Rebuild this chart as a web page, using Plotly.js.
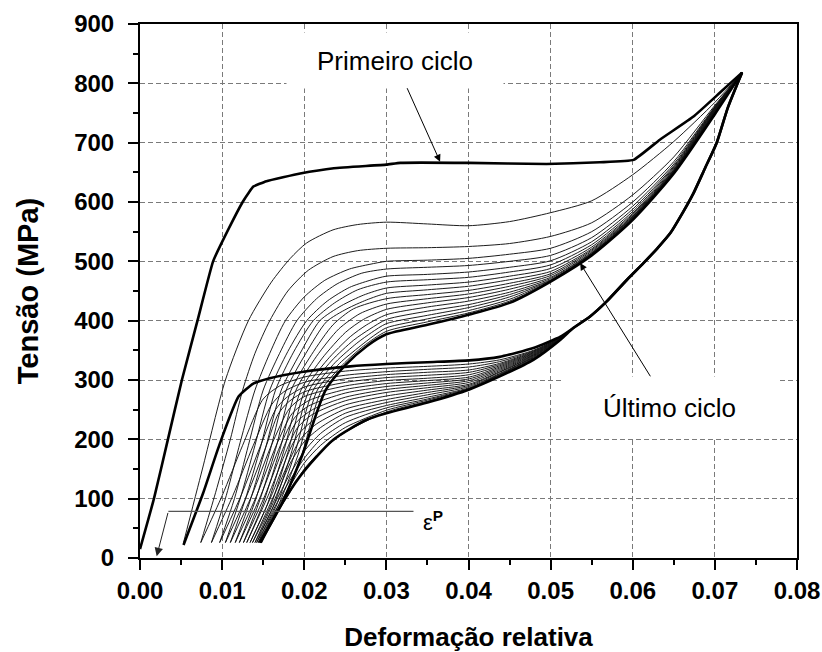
<!DOCTYPE html>
<html><head><meta charset="utf-8">
<script src="https://cdn.plot.ly/plotly-3.0.1.min.js"></script>
<style>html,body{margin:0;padding:0;background:#fff}#chart{width:822px;height:652px}</style>
</head><body><div id="chart"></div>
<script>
// ---------------- DATA ----------------
// Strain (x) and stress in MPa (y)
const xTicks = [0.00, 0.01, 0.02, 0.03, 0.04, 0.05, 0.06, 0.07, 0.08];
const yTicks = [0, 100, 200, 300, 400, 500, 600, 700, 800, 900];

// First cycle loading (bold)
const cycle1LoadX = [0.0000,0.0017,0.0034,0.0051,0.0070,0.0089,0.0108,0.0125,0.0133,0.0138,0.0154,0.0195,0.0236,0.0300,0.0317,0.0400,0.0495,0.0560,0.0601,0.0633,0.0674,0.0706,0.0733];
const cycle1LoadY = [15,100,200,300,400,500,555,600,617,626,635,648,657,663,666,666,664,667,671,705,744,784,818];

// Loading curves of cycles 2..18: lower (elastic / transition) part
const loadLowX = [
  [0.0053,0.0076,0.0104,0.0132,0.0160,0.0183,0.0203,0.0235,0.0265],
  [0.0074,0.0092,0.0110,0.0125,0.0140,0.0158,0.0180,0.0205,0.0235,0.0265],
  [0.0087,0.0105,0.0122,0.0140,0.0158,0.0177,0.0200,0.0225,0.0255,0.0280],
  [0.0097,0.0115,0.0132,0.0150,0.0170,0.0191,0.0215,0.0240,0.0270],
  [0.0104,0.0122,0.0140,0.0158,0.0180,0.0203,0.0228,0.0255,0.0280],
  [0.0110,0.0128,0.0147,0.0165,0.0187,0.0211,0.0237,0.0265],
  [0.0116,0.0134,0.0153,0.0172,0.0195,0.0219,0.0245,0.0272],
  [0.0121,0.0140,0.0159,0.0178,0.0202,0.0227,0.0252,0.0276],
  [0.0126,0.0145,0.0165,0.0184,0.0209,0.0235,0.0260],
  [0.0130,0.0150,0.0170,0.0190,0.0215,0.0242,0.0268],
  [0.0134,0.0155,0.0175,0.0196,0.0222,0.0250,0.0272],
  [0.0137,0.0159,0.0180,0.0201,0.0228,0.0256,0.0276],
  [0.0140,0.0162,0.0184,0.0206,0.0233,0.0260,0.0280],
  [0.0142,0.0165,0.0188,0.0211,0.0238,0.0264,0.0282],
  [0.0144,0.0167,0.0192,0.0216,0.0243,0.0268,0.0284],
  [0.0145,0.0169,0.0196,0.0221,0.0247,0.0272],
  [0.0146,0.0172,0.0198,0.0226,0.0250,0.0276]
];
const loadLowY = [
  [26,150,300,400,465,505,531,553,562],
  [26,110,200,283,345,400,450,485,508,518],
  [26,105,195,283,345,400,440,468,487,495],
  [26,100,190,283,345,400,437,462,480],
  [26,100,190,283,348,400,433,456,468],
  [26,98,188,283,347,400,430,452],
  [26,96,186,283,345,400,425,443],
  [26,95,184,283,345,398,420,435],
  [26,94,183,283,343,393,420],
  [26,92,181,283,340,386,412],
  [26,90,180,283,337,380,402],
  [26,88,178,283,334,373,393],
  [26,86,176,283,332,367,386],
  [26,85,174,283,330,362,380],
  [26,84,172,283,328,357,374],
  [26,82,170,283,326,357],
  [26,90,175,283,325,357]
];
// Loading curves of cycles 2..18: upper part on a shared strain grid
const loadUpX = [0.030,0.035,0.040,0.045,0.050,0.055,0.060,0.065,0.070,0.0733];
const loadUpY = [
  [566,563,560,567,582,602,646,702,768,818],
  [522,523,525,530,542,565,612,676,763,818],
  [500,502,505,512,522,550,600,668,761,818],
  [487,490,493,500,510,540,593,664,760,818],
  [475,478,482,490,501,533,588,661,759,818],
  [465,469,473,482,494,528,584,659,758,818],
  [455,460,465,475,488,524,581,657,757,818],
  [446,452,458,469,483,521,579,655,756,818],
  [437,444,451,463,479,519,577,654,755,818],
  [428,437,445,458,476,517,576,653,754,818],
  [419,430,439,453,473,515,575,652,753,818],
  [410,423,433,448,471,514,574,651,752,818],
  [402,416,427,444,469,513,573,651,752,818],
  [395,409,422,440,468,512,572,650,751,818],
  [388,403,417,436,467,511,571,650,751,818],
  [382,398,413,433,466,511,571,649,750,818],
  [377,393,410,430,466,510,570,648,748,818]
];

// Unloading curves of cycles 1..18: common upper path from the peak
const unloadTopX = [0.0733,0.0716,0.0702,0.0688,0.0674,0.0660,0.0646,0.0630,0.0613,0.0593,0.0568,0.0548,0.0528];
const unloadTopY = [818,760,699,657,615,580,548,522,497,469,432,407,388];
// middle part (shared strain grid), one row per cycle 1..18
const unloadMidX = [0.0512,0.0479,0.0438,0.0401,0.0350];
const unloadMidY = [
  [373,354,339,333,330],
  [372,350,334,327,323],
  [372,349,331,322,318],
  [371,348,328,317,313],
  [371,347,326,313,308],
  [371,346,324,309,303],
  [370,345,322,305,299],
  [370,344,320,302,295],
  [370,343,318,299,291],
  [369,342,316,296,287],
  [369,341,314,293,283],
  [369,340,313,291,279],
  [369,339,311,289,275],
  [368,338,310,287,271],
  [368,337,309,286,268],
  [368,336,308,285,266],
  [368,335,307,284,264],
  [368,334,306,284,262]
];
// lower part, one row per cycle 1..18
const unloadLowX = [
  [0.0300,0.0256,0.0199,0.0158,0.0138,0.0120,0.00975,0.0077,0.0053],
  [0.0300,0.0250,0.0200,0.0170,0.0150,0.0125,0.0100,0.0074],
  [0.0300,0.0250,0.0200,0.0175,0.0160,0.0138,0.0113,0.0087],
  [0.0300,0.0250,0.0200,0.0178,0.0165,0.0147,0.0123,0.0097],
  [0.0300,0.0250,0.0200,0.0180,0.0168,0.0154,0.0130,0.0104],
  [0.0300,0.0250,0.0200,0.0182,0.0160,0.0136,0.0110],
  [0.0300,0.0250,0.0205,0.0185,0.0166,0.0142,0.0116],
  [0.0300,0.0250,0.0205,0.0188,0.0171,0.0147,0.0121],
  [0.0300,0.0250,0.0210,0.0190,0.0176,0.0152,0.0126],
  [0.0300,0.0250,0.0210,0.0192,0.0181,0.0156,0.0130],
  [0.0300,0.0250,0.0215,0.0195,0.0185,0.0160,0.0134],
  [0.0300,0.0250,0.0215,0.0197,0.0189,0.0163,0.0137],
  [0.0300,0.0250,0.0220,0.0200,0.0183,0.0166,0.0140],
  [0.0300,0.0250,0.0220,0.0200,0.0180,0.0160,0.0142],
  [0.0300,0.0250,0.0220,0.0200,0.0180,0.0160,0.0144],
  [0.0300,0.0250,0.0220,0.0200,0.0180,0.0160,0.0145],
  [0.0300,0.0250,0.0220,0.0200,0.0180,0.0160,0.0146],
  [0.0300,0.0276,0.0235,0.0195,0.0170,0.0147]
];
const unloadLowY = [
  [327,323,314,303,294,272,194,110,22],
  [320,315,305,290,268,190,105,26],
  [314,308,296,280,258,190,105,26],
  [309,302,288,270,250,190,105,26],
  [304,296,280,262,242,190,105,26],
  [299,290,272,252,190,105,26],
  [294,284,265,243,190,105,26],
  [289,278,256,236,190,105,26],
  [284,271,250,228,190,105,26],
  [279,265,242,220,190,105,26],
  [273,258,236,212,190,105,26],
  [267,251,226,203,185,105,26],
  [262,244,220,196,160,105,26],
  [257,237,210,180,135,80,26],
  [253,228,200,168,125,75,26],
  [249,220,190,160,115,68,26],
  [246,212,180,150,105,62,26],
  [244,233,199,138,85,26]
];

// Annotation anchors (data coordinates)
const epsLineX = [0.00345, 0.0333];
const epsLineY = 78.5;
const epsArrowHead = [0.00203, 3];

// ---------------- BUILD ----------------
const THIN = {color:'#111', width:0.95};
const BOLD = {color:'#000', width:2.6};
const traces = [];
function add(x, y, line, shape, smooth) {
  traces.push({type:'scatter', mode:'lines', x:x, y:y, hoverinfo:'skip', showlegend:false,
    line:Object.assign({shape:shape, smoothing:smooth}, line)});
}
const nLoad = loadLowX.length; // cycles 2..18
const nUnload = unloadLowX.length; // cycles 1..18
for (let i = 0; i < nLoad - 1; i++) {
  add(loadLowX[i].concat(loadUpX), loadLowY[i].concat(loadUpY[i]), THIN, 'spline', 0.7);
}
for (let i = 1; i < nUnload - 1; i++) {
  add(unloadTopX.concat(unloadMidX, unloadLowX[i]), unloadTopY.concat(unloadMidY[i], unloadLowY[i]), THIN, 'spline', 0.7);
}
add(cycle1LoadX, cycle1LoadY, BOLD, 'spline', 0.35);
add(unloadTopX.concat(unloadMidX, unloadLowX[0]), unloadTopY.concat(unloadMidY[0], unloadLowY[0]), BOLD, 'spline', 0.5);
add(loadLowX[nLoad-1].concat(loadUpX), loadLowY[nLoad-1].concat(loadUpY[nLoad-1]), BOLD, 'spline', 0.7);
add(unloadTopX.concat(unloadMidX, unloadLowX[nUnload-1]), unloadTopY.concat(unloadMidY[nUnload-1], unloadLowY[nUnload-1]), BOLD, 'spline', 0.7);

const FONT = 'Liberation Sans, Arial, Helvetica, sans-serif';
const axisCommon = {
  ticks:'outside', ticklen:10, tickwidth:2, tickcolor:'#000',
  showline:true, linewidth:2, linecolor:'#000', mirror:true,
  showgrid:true, gridcolor:'#7a7a7a', gridwidth:1, griddash:'5px,3px',
  zeroline:false, fixedrange:true,
  tickfont:{family:FONT, size:24, color:'#000', weight:700}
};
const layout = {
  width:822, height:652,
  margin:{l:140, r:25, t:24, b:94, pad:0},
  paper_bgcolor:'#fff', plot_bgcolor:'#fff',
  showlegend:false,
  font:{family:FONT, color:'#000'},
  xaxis:Object.assign({}, axisCommon, {
    range:[0,0.08], tickvals:xTicks, ticktext:xTicks.map(v=>v.toFixed(2)),
    minor:{dtick:0.005, tick0:0, ticks:'outside', ticklen:5, tickwidth:2, tickcolor:'#000', showgrid:false},
    ticklabelstandoff:0,
    title:{text:'Deformação relativa', font:{family:FONT, size:26, weight:700}, standoff:28}
  }),
  yaxis:Object.assign({}, axisCommon, {
    range:[0,900], tickvals:yTicks, ticktext:yTicks.map(String),
    minor:{dtick:50, tick0:0, ticks:'outside', ticklen:5, tickwidth:2, tickcolor:'#000', showgrid:false},
    ticklabelstandoff:9,
    title:{text:'Tensão (MPa)', font:{family:FONT, size:29, weight:700}, standoff:27}
  }),
  shapes:[
    {type:'line', xref:'x', yref:'y', x0:epsLineX[0], x1:epsLineX[1], y0:epsLineY, y1:epsLineY,
     line:{color:'#555', width:1.3}}
  ],
  annotations:[
    {xref:'x', yref:'y', x:0.03654, y:668, ax:0.0310, ay:839, axref:'x', ayref:'y',
     text:'Primeiro ciclo', showarrow:true, arrowhead:2, arrowsize:1.4, arrowwidth:1, arrowcolor:'#000', standoff:0,
     font:{family:FONT, size:26, color:'#000'}, bgcolor:'#fff', width:216, height:55, valign:'middle', borderpad:0},
    {xref:'x', yref:'y', x:0.05359, y:497, ax:0.06449, ay:254, axref:'x', ayref:'y',
     text:'Último ciclo', showarrow:true, arrowhead:2, arrowsize:1.4, arrowwidth:1, arrowcolor:'#000', standoff:0,
     font:{family:FONT, size:26, color:'#000'}, bgcolor:'#fff', width:215, height:61, valign:'middle', borderpad:0},
    {xref:'x', yref:'y', x:epsArrowHead[0], y:epsArrowHead[1], ax:epsLineX[0], ay:epsLineY, axref:'x', ayref:'y', text:'',
     showarrow:true, arrowhead:2, arrowsize:1.7, arrowwidth:1, arrowcolor:'#222', standoff:0},
    {xref:'x', yref:'y', x:0.03422, y:62, text:'ε<sup><b>P</b></sup>', showarrow:false,
     font:{family:FONT, size:22, color:'#000'}, xanchor:'left', yanchor:'middle'}
  ]
};
Plotly.newPlot('chart', traces, layout, {displayModeBar:false, staticPlot:true});
</script>
</body></html>
